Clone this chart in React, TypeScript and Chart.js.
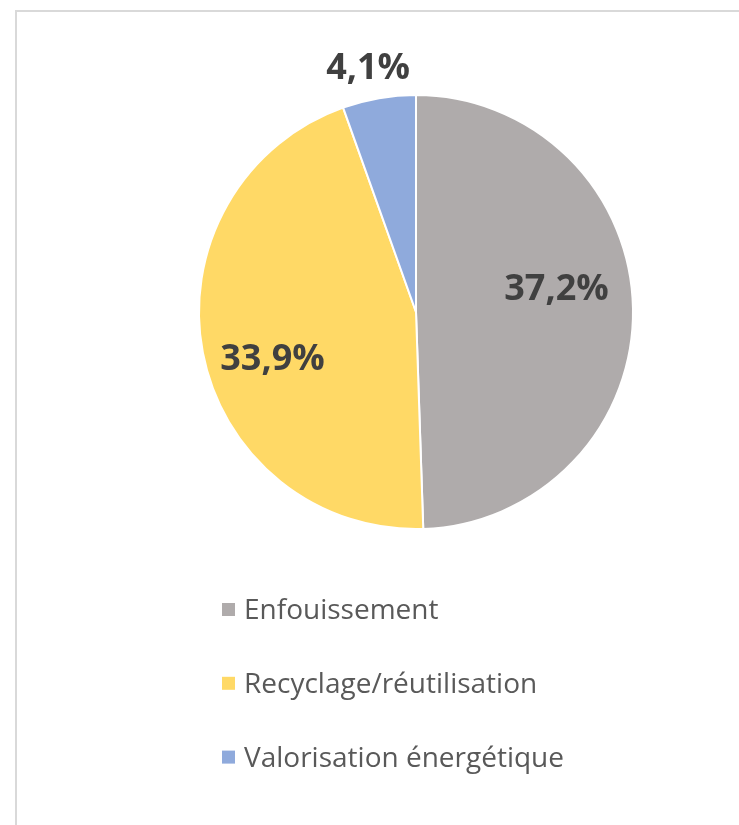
import React, { useEffect, useRef } from "react";
import { Chart, registerables } from "chart.js";

Chart.register(...registerables);

const categories = ["Enfouissement", "Recyclage/réutilisation", "Valorisation énergétique"];
const values = [37.2, 33.9, 4.1];
const valueLabels = ["37,2%", "33,9%", "4,1%"];
const colors = ["#AFABAB", "#FFD966", "#8FAADC"];

const FONT = "'Open Sans', 'Noto Sans', sans-serif";

const labelPlugin = {
  id: "sliceLabels",
  afterDatasetsDraw(chart: any, _args: any, opts: any) {
    const ctx = chart.ctx;
    const meta = chart.getDatasetMeta(0);
    ctx.save();
    ctx.font = `bold ${opts.size}px ${FONT}`;
    ctx.fillStyle = opts.color;
    ctx.textAlign = "center";
    ctx.textBaseline = "alphabetic";
    meta.data.forEach((arc: any, i: number) => {
      const p = arc.getProps(["x", "y", "startAngle", "endAngle", "outerRadius"], true);
      const mid = (p.startAngle + p.endAngle) / 2 + opts.nudge[i];
      const r = p.outerRadius * opts.factor[i];
      const cx = p.x + Math.cos(mid) * r;
      const cy = p.y + Math.sin(mid) * r;
      ctx.fillText(chart.data.datasets[0].valueLabels[i], cx, cy + opts.size * 0.36);
    });
    ctx.restore();
  },
};

const legendPlugin = {
  id: "vertLegend",
  afterDraw(chart: any, _args: any, opts: any) {
    const ctx = chart.ctx;
    const ds = chart.data.datasets[0];
    ctx.save();
    ctx.font = `${opts.size}px ${FONT}`;
    ctx.textAlign = "left";
    ctx.textBaseline = "alphabetic";
    chart.data.labels.forEach((lab: string, i: number) => {
      const base = opts.y + i * opts.step;
      ctx.fillStyle = ds.backgroundColor[i];
      ctx.fillRect(opts.x, base - opts.box - 3, opts.box, opts.box);
      ctx.fillStyle = opts.color;
      ctx.fillText(lab, opts.x + opts.box + opts.gap, base);
    });
    ctx.restore();
  },
};

export default function App() {
  const ref = useRef<HTMLCanvasElement>(null);
  useEffect(() => {
    if (!ref.current) return;
    const chart = new Chart(ref.current, {
      type: "pie",
      data: {
        labels: categories,
        datasets: [
          {
            data: values,
            backgroundColor: colors,
            borderColor: "#ffffff",
            borderWidth: 2,
            valueLabels,
          } as any,
        ],
      },
      options: {
        responsive: false,
        animation: false,
        layout: { padding: { left: 198, right: 105, top: 94, bottom: 295 } },
        plugins: {
          legend: { display: false },
          tooltip: { enabled: false },
          sliceLabels: {
            size: 36,
            color: "#404040",
            factor: [0.658, 0.693, 1.155],
            nudge: [-0.162, -0.115, -0.021],
          },
          vertLegend: {
            x: 222,
            y: 619,
            step: 73.8,
            box: 13,
            gap: 9,
            size: 28,
            color: "#595959",
          },
        } as any,
      },
      plugins: [labelPlugin, legendPlugin],
    });
    return () => chart.destroy();
  }, []);
  return (
    <div style={{ position: "absolute", left: 0, top: 0, width: 739, height: 825, background: "#fff", overflow: "hidden" }}>
      <div
        style={{
          position: "absolute",
          left: 15,
          top: 10,
          width: 800,
          height: 900,
          borderLeft: "2px solid #D9D9D9",
          borderTop: "2px solid #D9D9D9",
        }}
      />
      <canvas ref={ref} width={739} height={825} style={{ position: "absolute", left: 0, top: 0 }} />
    </div>
  );
}
